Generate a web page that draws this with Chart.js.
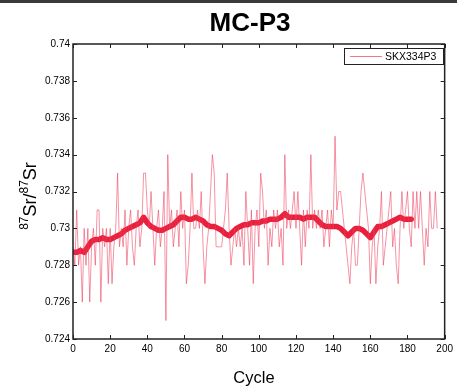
<!DOCTYPE html>
<html>
<head>
<meta charset="utf-8">
<script src="https://cdn.jsdelivr.net/npm/chart.js@4.4.1/dist/chart.umd.min.js"></script>
<style>
  body { margin: 0; background: #fff; }
  #wrap { position: relative; width: 457px; height: 387px; }
  #topbar { position: absolute; left: 0; top: 0; width: 457px; height: 3px; background: #3a3a3a; }
  canvas { display: block; }
</style>
</head>
<body>
<div id="wrap">
  <canvas id="chart" width="457" height="387"></canvas>
  <div id="topbar"></div>
</div>
<script>
// raw ratio per cycle (cycle = index)
const ratioValues = [
  0.729, 0.728, 0.731, 0.728, 0.729, 0.726, 0.730, 0.728, 0.730, 0.726,
  0.729, 0.730, 0.728, 0.731, 0.731, 0.726, 0.730, 0.729, 0.730, 0.727,
  0.730, 0.727, 0.729, 0.730, 0.733, 0.729, 0.730, 0.729, 0.731, 0.728,
  0.730, 0.731, 0.729, 0.728, 0.730, 0.731, 0.729, 0.730, 0.733, 0.733,
  0.731, 0.730, 0.732, 0.730, 0.728, 0.730, 0.731, 0.729, 0.730, 0.732,
  0.725, 0.734, 0.730, 0.731, 0.729, 0.730, 0.731, 0.729, 0.732, 0.730,
  0.731, 0.727, 0.728, 0.730, 0.733, 0.730, 0.730, 0.731, 0.730, 0.732,
  0.729, 0.727, 0.729, 0.730, 0.732, 0.734, 0.733, 0.729, 0.729, 0.729,
  0.729, 0.730, 0.731, 0.733, 0.730, 0.728, 0.729, 0.730, 0.729, 0.730,
  0.729, 0.730, 0.728, 0.732, 0.730, 0.728, 0.731, 0.727, 0.730, 0.731,
  0.729, 0.733, 0.732, 0.730, 0.731, 0.728, 0.730, 0.729, 0.731, 0.730,
  0.731, 0.729, 0.730, 0.728, 0.734, 0.730, 0.731, 0.730, 0.731, 0.732,
  0.730, 0.732, 0.730, 0.728, 0.731, 0.729, 0.731, 0.730, 0.734, 0.730,
  0.731, 0.730, 0.731, 0.730, 0.731, 0.729, 0.730, 0.731, 0.729, 0.731,
  0.730, 0.735, 0.731, 0.732, 0.732, 0.731, 0.730, 0.729, 0.728, 0.727,
  0.729, 0.730, 0.728, 0.728, 0.730, 0.732, 0.733, 0.732, 0.731, 0.730,
  0.727, 0.729, 0.730, 0.727, 0.729, 0.730, 0.732, 0.728, 0.729, 0.730,
  0.731, 0.732, 0.729, 0.730, 0.728, 0.727, 0.730, 0.732, 0.730, 0.731,
  0.732, 0.730, 0.729, 0.732, 0.730, 0.732, 0.730, 0.732, 0.730, 0.728,
  0.730, 0.729, 0.732, 0.730, 0.730, 0.732, 0.730
];

// running mean, read every 2 cycles
const meanCycles = [
  0, 2, 4, 6, 8, 10, 12, 14, 16, 18, 20, 22, 24, 26, 28, 30, 32, 34, 36, 38,
  40, 42, 44, 46, 48, 50, 52, 54, 56, 58, 60, 62, 64, 66, 68, 70, 72, 74, 76, 78,
  80, 82, 84, 86, 88, 90, 92, 94, 96, 98, 100, 102, 104, 106, 108, 110, 112, 114, 116, 118,
  120, 122, 124, 126, 128, 130, 132, 134, 136, 138, 140, 142, 144, 146, 148, 150, 152, 154, 156, 158,
  160, 162, 164, 166, 168, 170, 172, 174, 176, 178, 180, 182
];
const meanValues = [
  0.7287, 0.7287, 0.7288, 0.7287, 0.7290, 0.7293, 0.7294, 0.7294, 0.7295, 0.7294,
  0.7294, 0.7295, 0.7296, 0.7297, 0.7299, 0.7300, 0.7301, 0.7302, 0.7303, 0.7306,
  0.7303, 0.7301, 0.7300, 0.7299, 0.7299, 0.7300, 0.7301, 0.7302, 0.7304, 0.7306,
  0.7306, 0.7305, 0.7305, 0.7306, 0.7305, 0.7304, 0.7302, 0.7301, 0.7301, 0.7300,
  0.7299, 0.7297, 0.7296, 0.7298, 0.7300, 0.7301, 0.7302, 0.7302, 0.7303, 0.7303,
  0.7303, 0.7304, 0.7304, 0.7305, 0.7305, 0.7305, 0.7306, 0.7308, 0.7306, 0.7306,
  0.7306, 0.7306, 0.7305, 0.7306, 0.7306, 0.7306, 0.7304, 0.7302, 0.7301, 0.7301,
  0.7301, 0.7301, 0.7300, 0.7298, 0.7296, 0.7298, 0.7300, 0.7300, 0.7299, 0.7297,
  0.7295, 0.7298, 0.7301, 0.7301, 0.7302, 0.7303, 0.7304, 0.7305, 0.7306, 0.7305,
  0.7305, 0.7305
];

const xTicks = [0, 20, 40, 60, 80, 100, 120, 140, 160, 180, 200];
const yTicks = [0.724, 0.726, 0.728, 0.73, 0.732, 0.734, 0.736, 0.738, 0.74];
const yTickLabels = ['0.724', '0.726', '0.728', '0.73', '0.732', '0.734', '0.736', '0.738', '0.74'];

const seriesName = 'SKX334P3';
const thinColor = 'rgba(236,60,90,0.55)';
const thickColor = '#e8203c';
const FONT = '"Liberation Sans", Arial, Helvetica, sans-serif';

const decor = {
  id: 'decor',
  afterDraw(c) {
    const ctx = c.ctx, a = c.chartArea;
    const xs = c.scales.x, ys = c.scales.y;
    ctx.save();
    // frame
    ctx.strokeStyle = '#222';
    ctx.lineWidth = 1.5;
    ctx.strokeRect(a.left, a.top, a.right - a.left, a.bottom - a.top);
    // inward ticks
    ctx.lineWidth = 1;
    ctx.beginPath();
    xTicks.forEach(t => {
      const px = Math.round(xs.getPixelForValue(t)) + 0.5;
      ctx.moveTo(px, a.bottom); ctx.lineTo(px, a.bottom - 4);
      ctx.moveTo(px, a.top); ctx.lineTo(px, a.top + 4);
    });
    yTicks.forEach(t => {
      const py = Math.round(ys.getPixelForValue(t)) + 0.5;
      ctx.moveTo(a.left, py); ctx.lineTo(a.left + 4, py);
      ctx.moveTo(a.right, py); ctx.lineTo(a.right - 4, py);
    });
    ctx.stroke();

    // title
    ctx.fillStyle = '#000';
    ctx.font = 'bold 26px ' + FONT;
    ctx.textAlign = 'center';
    ctx.textBaseline = 'alphabetic';
    ctx.fillText('MC-P3', 250, 31);

    // x label
    ctx.font = '16.5px ' + FONT;
    ctx.fillText('Cycle', 254, 383);

    // y label with superscripts
    ctx.translate(36, 196);
    ctx.rotate(-Math.PI / 2);
    const parts = [['87', true], ['Sr/', false], ['87', true], ['Sr', false]];
    const fontFor = sup => (sup ? '12px ' : '18px ') + FONT;
    let total = 0;
    parts.forEach(([t, sup]) => { ctx.font = fontFor(sup); total += ctx.measureText(t).width; });
    let x = -total / 2;
    ctx.textAlign = 'left';
    parts.forEach(([t, sup]) => {
      ctx.font = fontFor(sup);
      ctx.fillText(t, x, sup ? -8 : 0);
      x += ctx.measureText(t).width;
    });
    ctx.restore();

    // legend
    ctx.save();
    ctx.fillStyle = '#fff';
    ctx.fillRect(344, 48, 99, 16);
    ctx.strokeStyle = '#222';
    ctx.lineWidth = 1;
    ctx.strokeRect(344.5, 48.5, 99, 16);
    ctx.strokeStyle = 'rgba(236,90,100,0.8)';
    ctx.beginPath();
    ctx.moveTo(350, 56.5); ctx.lineTo(382, 56.5);
    ctx.stroke();
    ctx.fillStyle = '#000';
    ctx.font = '10.5px ' + FONT;
    ctx.textBaseline = 'middle';
    ctx.fillText(seriesName, 385, 57);
    ctx.restore();
  }
};

new Chart(document.getElementById('chart'), {
  type: 'line',
  data: {
    datasets: [
      {
        label: seriesName,
        data: ratioValues.map((v, i) => ({ x: i, y: v })),
        borderColor: thinColor,
        borderWidth: 1,
        pointRadius: 0,
        tension: 0
      },
      {
        label: 'mean',
        data: meanValues.map((v, i) => ({ x: meanCycles[i], y: v })),
        borderColor: thickColor,
        borderWidth: 5.5,
        pointRadius: 0,
        tension: 0,
        borderJoinStyle: 'round',
        borderCapStyle: 'round'
      }
    ]
  },
  options: {
    responsive: false,
    animation: false,
    devicePixelRatio: 1,
    layout: { padding: { left: 0, right: 10, top: 44, bottom: 0 } },
    plugins: { legend: { display: false }, tooltip: { enabled: false }, title: { display: false } },
    scales: {
      x: {
        type: 'linear', min: 0, max: 200,
        afterBuildTicks: s => { s.ticks = xTicks.map(v => ({ value: v })); },
        afterFit: s => { s.height = 48; },
        grid: { display: false, drawTicks: false },
        border: { display: false },
        ticks: { color: '#000', font: { family: FONT, size: 10 }, padding: 4, maxRotation: 0 }
      },
      y: {
        min: 0.724, max: 0.74,
        afterBuildTicks: s => { s.ticks = yTicks.map(v => ({ value: v })); },
        afterFit: s => { s.width = 73; },
        grid: { display: false, drawTicks: false },
        border: { display: false },
        ticks: {
          color: '#000', font: { family: FONT, size: 10 }, padding: 3,
          callback: v => yTickLabels[yTicks.findIndex(t => Math.abs(t - v) < 1e-9)]
        }
      }
    }
  },
  plugins: [decor]
});
</script>
</body>
</html>
